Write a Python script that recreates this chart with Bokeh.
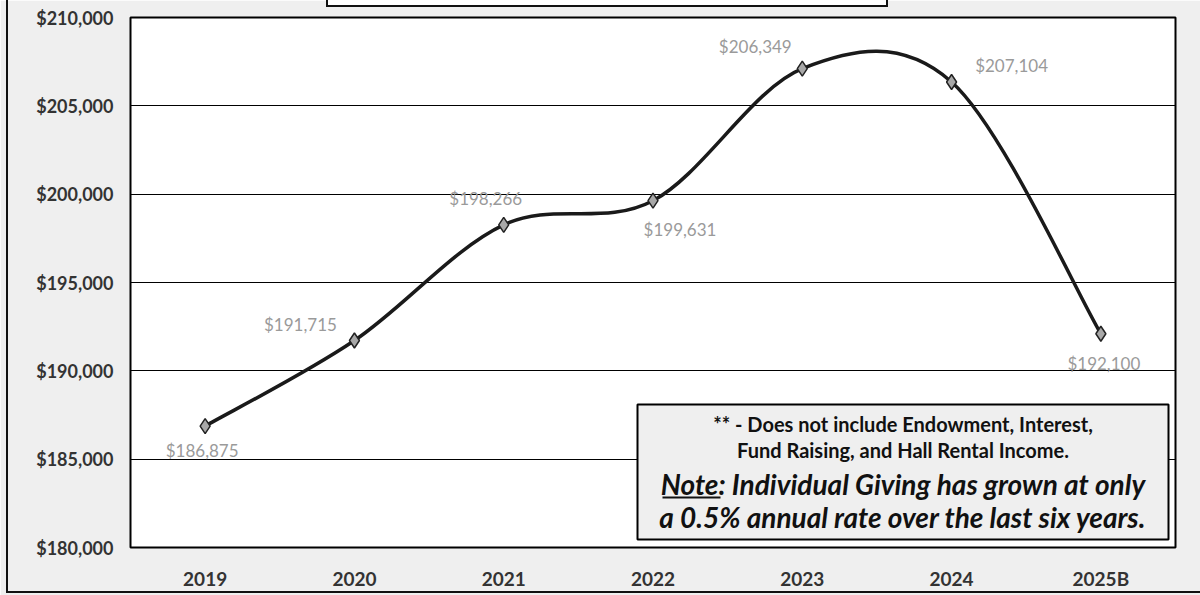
from bokeh.plotting import figure
from bokeh.models import (ColumnDataSource, FixedTicker, NumeralTickFormatter,
                          BoxAnnotation, Label, Range1d, InlineStyleSheet)
from bokeh.core.properties import value
from bokeh.embed import file_html
from bokeh.resources import INLINE

# ---------------- data ----------------
years = ["2019", "2020", "2021", "2022", "2023", "2024", "2025B"]
giving = [186875, 191715, 198266, 199631, 207104, 206349, 192100]
# data labels exactly as printed in the reference (2023/2024 appear swapped there)
label_text = ["$186,875", "$191,715", "$198,266", "$199,631", "$206,349", "$207,104", "$192,100"]
y_ticks = [180000, 185000, 190000, 195000, 200000, 205000, 210000]
note_lines = ["** - Does not include Endowment, Interest,",
              "Fund Raising, and Hall Rental Income.",
              "Note: Individual Giving has grown at only",
              "a 0.5% annual rate over the last six years."]

# ---------------- styling / positions ----------------
lab_xoff = [-3, -54, -18, 27, -47, 60, 3]
lab_yoff = [24, -16, -26, 29, -22, -17, 30]
FONT = "Lato"
BG = "#efefef"

W, H = 1200, 595
FL, FR, FT, FB = 130, 1175, 17, 547   # frame edges in pixels

p = figure(width=W, height=H, output_backend="svg", toolbar_location=None,
           x_range=Range1d(-0.5, len(years) - 0.5),
           y_range=Range1d(y_ticks[0], y_ticks[-1]),
           min_border_left=FL, min_border_right=W - FR,
           min_border_top=FT, min_border_bottom=H - FB)
p.border_fill_color = BG
p.background_fill_color = "white"
p.outline_line_color = "black"
p.outline_line_width = 2

# axes
p.xaxis.ticker = FixedTicker(ticks=list(range(len(years))))
p.xaxis.major_label_overrides = {i: y for i, y in enumerate(years)}
p.yaxis.ticker = FixedTicker(ticks=y_ticks)
p.yaxis.formatter = NumeralTickFormatter(format="$0,0")
for ax in (p.xaxis, p.yaxis):
    ax.axis_line_color = None
    ax.major_tick_line_color = None
    ax.minor_tick_line_color = None
    ax.major_tick_out = 0
    ax.minor_tick_out = 0
    ax.major_label_text_font = FONT
    ax.major_label_text_font_style = "bold"
    ax.major_label_text_color = "#333333"
p.yaxis.major_label_text_font_size = "18px"
p.yaxis.major_label_standoff = 17
p.xaxis.major_label_text_font_size = "19px"
p.xaxis.major_label_standoff = 19
p.xgrid.grid_line_color = None
p.ygrid.grid_line_color = "black"
p.ygrid.grid_line_width = 1
p.ygrid.ticker = FixedTicker(ticks=y_ticks)

# smoothed line (Excel-style Catmull-Rom bezier through the points)
n = len(giving)
xs = list(range(n))
x0, y0, x1, y1, cx0, cy0, cx1, cy1 = ([] for _ in range(8))
for i in range(n - 1):
    ip, inn = max(i - 1, 0), min(i + 2, n - 1)
    x0.append(xs[i]); y0.append(giving[i])
    x1.append(xs[i + 1]); y1.append(giving[i + 1])
    cx0.append(xs[i] + (xs[i + 1] - xs[ip]) / 6)
    cy0.append(giving[i] + (giving[i + 1] - giving[ip]) / 6)
    cx1.append(xs[i + 1] - (xs[inn] - xs[i]) / 6)
    cy1.append(giving[i + 1] - (giving[inn] - giving[i]) / 6)
p.bezier(x0=x0, y0=y0, x1=x1, y1=y1, cx0=cx0, cy0=cy0, cx1=cx1, cy1=cy1,
         line_color="#1a1a1a", line_width=3.5)

src = ColumnDataSource(dict(x=xs, y=giving, t=label_text, xo=lab_xoff, yo=lab_yoff))
p.scatter("x", "y", source=src, marker="diamond", size=15,
          fill_color="#a8a8a8", line_color="#222222", line_width=1.5)
p.text("x", "y", text="t", source=src, x_offset="xo", y_offset="yo",
       text_align="center", text_baseline="middle",
       text_font=value(FONT), text_font_size="17px", text_color="#9a9a9a")


def sbox(l, r, t, b, **kw):
    # canvas pixel coords -> frame screen units (y measured up from frame bottom)
    return BoxAnnotation(left=l - FL, right=r - FL, top=FB - t, bottom=FB - b,
                         left_units="screen", right_units="screen",
                         top_units="screen", bottom_units="screen", **kw)


# note box
p.add_layout(sbox(637, 1168, 404, 539, fill_color=BG, fill_alpha=1,
                  line_color="black", line_alpha=1, line_width=2))
cx = (637 + 1168) / 2 - FL
ys_note = [423, 449, 483, 516]
for i, (txt, yy) in enumerate(zip(note_lines, ys_note)):
    big = i >= 2
    p.add_layout(Label(x=cx, y=FB - yy, x_units="screen", y_units="screen", text=txt,
                       text_align="center", text_baseline="middle",
                       text_font=FONT, text_font_size="28px" if big else "20px",
                       text_font_style="bold italic" if big else "bold",
                       text_color="#111111"))
# underline of "Note"
p.add_layout(sbox(662, 720, 496, 498, fill_color="#111111", fill_alpha=1,
                  line_color=None))

# outer chart border (left/bottom) and the clipped title box at the top edge
p.stylesheets = [InlineStyleSheet(css="""
:host { position: relative; }
:host::after {
  content: ""; position: absolute; left: 6px; top: -20px;
  width: 1300px; height: 611px;
  border-left: 2.5px solid #111; border-bottom: 2.5px solid #111;
  pointer-events: none; z-index: 10;
}
:host::before {
  content: ""; position: absolute; left: 326px; top: -30px;
  width: 558px; height: 33px;
  border: 2px solid #111; background: #ffffff;
  pointer-events: none; z-index: 10;
}
""")]

open("out.html", "w").write(file_html(p, INLINE))
